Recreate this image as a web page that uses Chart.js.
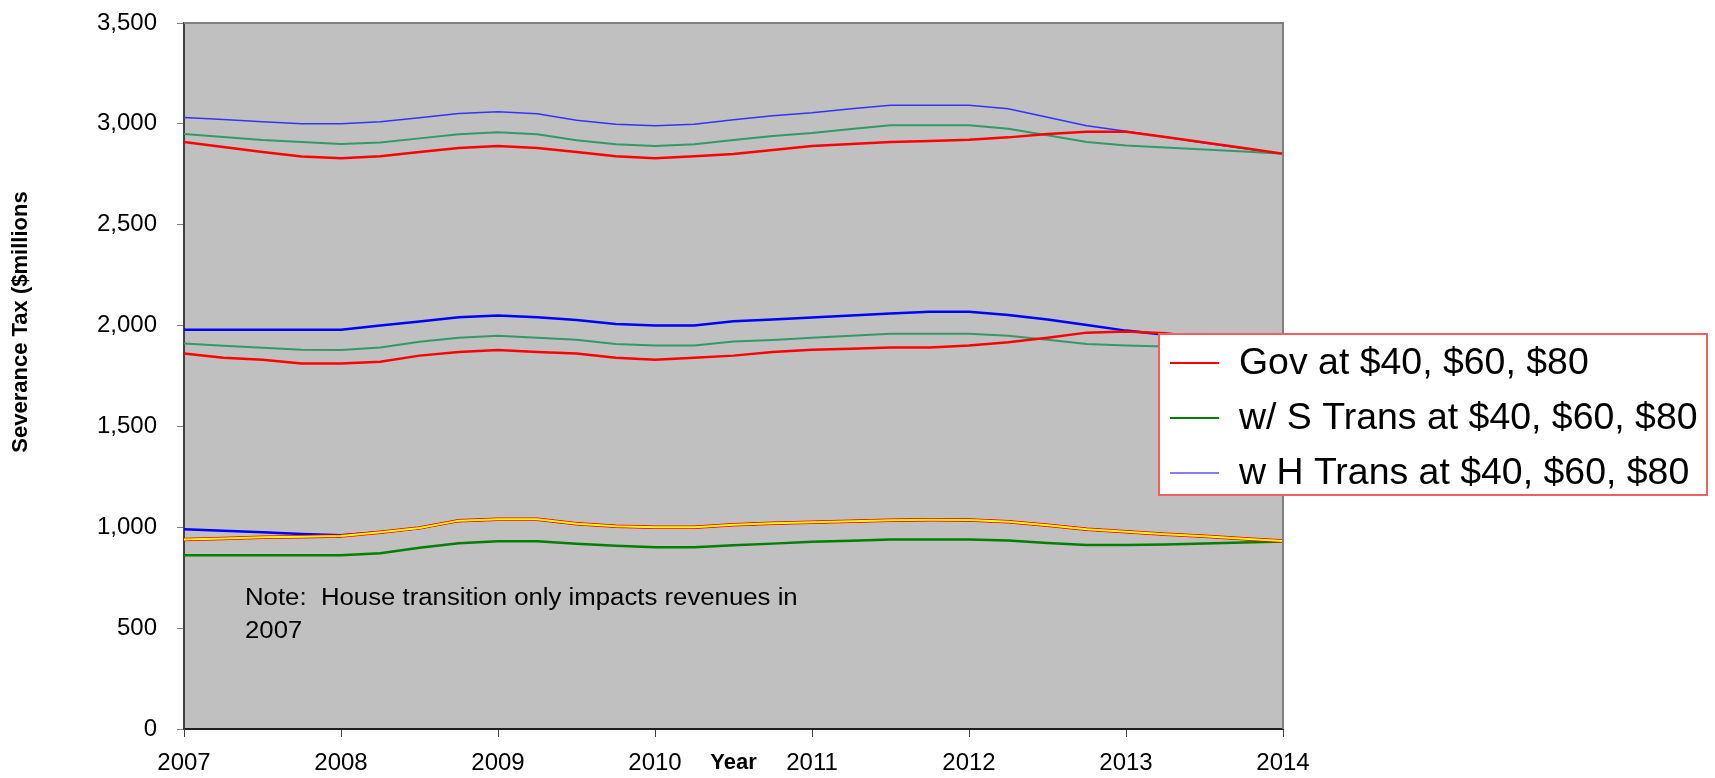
<!DOCTYPE html>
<html>
<head>
<meta charset="utf-8">
<title>Severance Tax</title>
<script src="https://cdn.jsdelivr.net/npm/chart.js@4/dist/chart.umd.min.js"></script>
<style>
  body { margin: 0; background: #fff; }
  canvas { display: block; }
</style>
</head>
<body>
<canvas id="myChart" width="1715" height="778"></canvas>
<script>
// quarterly points, 2007 through 2014
const quarters = [2007, 2007.25, 2007.5, 2007.75, 2008, 2008.25, 2008.5, 2008.75,
  2009, 2009.25, 2009.5, 2009.75, 2010, 2010.25, 2010.5, 2010.75,
  2011, 2011.25, 2011.5, 2011.75, 2012, 2012.25, 2012.5, 2012.75,
  2013, 2013.25, 2013.5, 2013.75, 2014];

// $80 oil
const govTop    = [2910, 2885, 2860, 2838, 2830, 2840, 2860, 2880, 2890, 2880, 2860, 2840, 2830, 2840, 2850, 2870, 2890, 2900, 2910, 2915, 2921, 2933, 2950, 2961, 2961, 2935, 2908, 2880, 2852];
const sTransTop = [2950, 2935, 2920, 2910, 2900, 2907, 2928, 2949, 2958, 2949, 2919, 2899, 2890, 2899, 2920, 2940, 2955, 2975, 2993, 2993, 2993, 2976, 2943, 2910, 2893, 2883, 2873, 2863, 2852];
const hTransTop = [3032, 3022, 3010, 3000, 3000, 3010, 3030, 3051, 3060, 3050, 3018, 2998, 2990, 2998, 3020, 3040, 3055, 3075, 3092, 3092, 3092, 3075, 3033, 2991, 2963, 2935, 2905, 2878, 2852];

// $60 oil
const govMid    = [1861, 1841, 1830, 1812, 1812, 1821, 1851, 1869, 1879, 1869, 1861, 1841, 1831, 1841, 1851, 1869, 1880, 1885, 1891, 1891, 1901, 1917, 1940, 1965, 1970, 1962, 1940, 1915, 1890];
const sTransMid = [1911, 1900, 1890, 1880, 1879, 1891, 1920, 1940, 1950, 1940, 1930, 1909, 1901, 1901, 1921, 1929, 1940, 1950, 1960, 1960, 1960, 1950, 1930, 1909, 1901, 1896, 1893, 1891, 1890];
const hTransMid = [1979, 1979, 1979, 1979, 1979, 2000, 2020, 2041, 2050, 2041, 2028, 2008, 2000, 2000, 2021, 2030, 2040, 2050, 2060, 2068, 2068, 2052, 2030, 2003, 1975, 1955, 1935, 1912, 1890];

// $40 oil
const govLow    = [940, 945, 950, 953, 957, 975, 997, 1033, 1040, 1040, 1018, 1005, 1000, 1000, 1012, 1020, 1025, 1030, 1035, 1037, 1036, 1028, 1010, 990, 978, 966, 955, 943, 932];
const sTransLow = [861, 861, 861, 861, 861, 871, 899, 921, 931, 931, 918, 909, 901, 901, 911, 919, 928, 933, 939, 939, 939, 935, 922, 912, 912, 915, 920, 925, 930];
const hTransLow = [990, 983, 975, 967, 960, 975, 997, 1033, 1040, 1040, 1018, 1005, 1000, 1000, 1012, 1020, 1025, 1030, 1035, 1037, 1036, 1028, 1010, 990, 978, 966, 955, 943, 932];

const legendLabels = ['Gov at $40, $60, $80', 'w/ S Trans at $40, $60, $80', 'w H Trans at $40, $60, $80'];
const legendColors = ['#FF0000', '#008000', '#8080FF'];
const noteLines = ['Note:  House transition only impacts revenues in', '2007'];

const FONT = '"Liberation Sans", Arial, sans-serif';
Chart.defaults.font.family = FONT;
Chart.defaults.color = '#000';

function series(values, color, width) {
  return {
    data: values.map((v, i) => ({ x: quarters[i], y: v })),
    borderColor: color,
    borderWidth: width,
    pointRadius: 0,
    pointHoverRadius: 0,
    tension: 0,
    fill: false
  };
}

// gray plot area with a gray frame on the top and right
const plotFrame = {
  id: 'plotFrame',
  beforeDraw(chart) {
    const { ctx, chartArea: a } = chart;
    ctx.save();
    ctx.fillStyle = '#C0C0C0';
    ctx.fillRect(a.left, a.top, a.right - a.left, a.bottom - a.top);
    ctx.restore();
  },
  afterDraw(chart) {
    const { ctx, chartArea: a } = chart;
    ctx.save();
    ctx.strokeStyle = '#808080';
    ctx.lineWidth = 2;
    ctx.beginPath();
    ctx.moveTo(a.left, a.top);
    ctx.lineTo(a.right, a.top);
    ctx.lineTo(a.right, a.bottom);
    ctx.stroke();
    ctx.restore();
  }
};

// y title, note and the boxed legend sitting over the plot
const annotations = {
  id: 'annotations',
  afterDraw(chart) {
    const { ctx } = chart;
    ctx.save();

    ctx.save();
    ctx.translate(21, 322);
    ctx.rotate(-Math.PI / 2);
    ctx.font = 'bold 22px ' + FONT;
    ctx.textAlign = 'center';
    ctx.textBaseline = 'middle';
    ctx.fillStyle = '#000';
    ctx.fillText('Severance Tax ($millions', 0, 0);
    ctx.restore();

    ctx.fillStyle = '#000';
    ctx.textAlign = 'left';
    ctx.textBaseline = 'middle';
    ctx.font = '23px ' + FONT;
    noteLines.forEach((t, i) => {
      ctx.save();
      ctx.translate(245, 599 + i * 33);
      ctx.scale(1.12, 1);
      ctx.fillText(t, 0, 0);
      ctx.restore();
    });

    const box = { x: 1159, y: 334, w: 548, h: 161 };
    ctx.fillStyle = '#FFFFFF';
    ctx.fillRect(box.x, box.y, box.w, box.h);
    ctx.strokeStyle = '#F06060';
    ctx.lineWidth = 2;
    ctx.strokeRect(box.x, box.y, box.w, box.h);
    ctx.font = '36px ' + FONT;
    legendLabels.forEach((t, i) => {
      const y = 363 + i * 55;
      ctx.strokeStyle = legendColors[i];
      ctx.lineWidth = 2;
      ctx.beginPath();
      ctx.moveTo(1170, y);
      ctx.lineTo(1219, y);
      ctx.stroke();
      ctx.save();
      ctx.translate(1239, y + 1);
      ctx.scale(1.04, 1);
      ctx.fillStyle = '#000';
      ctx.fillText(t, 0, 0);
      ctx.restore();
    });

    ctx.restore();
  }
};

const ctx = document.getElementById('myChart').getContext('2d');
const myChart = new Chart(ctx, {
  type: 'line',
  data: {
    datasets: [
      series(govLow, '#FFFF00', 2),
      series(govLow, '#FF0000', 3.5),
      series(hTransLow, '#0000FF', 2.5),
      series(sTransLow, '#008000', 2.5),
      series(govMid, '#FF0000', 2.5),
      series(sTransMid, '#339966', 2),
      series(hTransMid, '#0000FF', 2.5),
      series(govTop, '#FF0000', 2.5),
      series(sTransTop, '#339966', 2),
      series(hTransTop, '#3333FF', 1.5)
    ]
  },
  options: {
    responsive: false,
    animation: false,
    devicePixelRatio: 1,
    layout: { padding: { top: 23, right: 432, left: 0, bottom: 0 } },
    plugins: {
      legend: { display: false },
      tooltip: { enabled: false }
    },
    scales: {
      x: {
        type: 'linear',
        min: 2007,
        max: 2014,
        afterFit: (scale) => { scale.height = 49; },
        ticks: {
          stepSize: 1,
          padding: 12,
          font: { size: 24 },
          color: '#000',
          callback: (v) => String(v)
        },
        grid: { drawOnChartArea: false, drawTicks: true, tickLength: 8, color: '#404040' },
        border: { color: '#202020', width: 2 },
        title: {
          display: true,
          text: 'Year',
          font: { size: 22, weight: 'bold' },
          color: '#000',
          padding: { top: 0, bottom: 2 }
        }
      },
      y: {
        min: 0,
        max: 3500,
        afterFit: (scale) => {
          scale.width = 184;
          // keep the plot top at the layout padding
          scale.paddingTop = 0;
          scale.paddingBottom = 0;
        },
        ticks: {
          stepSize: 500,
          padding: 20,
          font: { size: 24 },
          color: '#000',
          callback: (v) => v.toLocaleString('en-US')
        },
        grid: { drawOnChartArea: false, drawTicks: true, tickLength: 7, color: '#808080' },
        border: { color: '#404040', width: 2 }
      }
    }
  },
  plugins: [plotFrame, annotations]
});
</script>
</body>
</html>
